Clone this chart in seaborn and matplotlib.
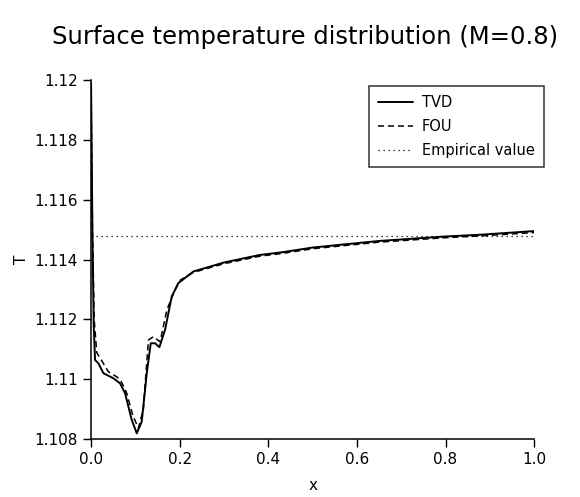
import numpy as np
import pandas as pd
import seaborn as sns
import matplotlib.pyplot as plt

# TVD solution
x_tvd = [0.0, 0.003, 0.006, 0.009, 0.0166, 0.0278, 0.0504, 0.0655, 0.0767, 0.0918,
         0.1031, 0.1144, 0.1257, 0.1347, 0.1445, 0.1542, 0.167, 0.182, 0.197, 0.231,
         0.3, 0.38, 0.43, 0.5, 0.65, 0.8, 0.88, 1.0]
T_tvd = [1.1199, 1.1150, 1.1118, 1.11064, 1.11053, 1.11020, 1.11003, 1.10986, 1.10953, 1.10864,
         1.10819, 1.10858, 1.11020, 1.11120, 1.11120, 1.11107, 1.11165, 1.11276, 1.11321, 1.11360,
         1.11390, 1.11415, 1.11424, 1.11440, 1.11462, 1.11477, 1.11483, 1.11495]

# FOU solution
x_fou = [0.0, 0.003, 0.007, 0.0128, 0.039, 0.058, 0.069, 0.0805, 0.094, 0.1068,
         0.118, 0.1294, 0.1407, 0.1558, 0.171, 0.186, 0.2, 0.231,
         0.3, 0.38, 0.43, 0.5, 0.65, 0.8, 0.88, 1.0]
T_fou = [1.1199, 1.1152, 1.1120, 1.11089, 1.11025, 1.11008, 1.10990, 1.10953, 1.10880, 1.10836,
         1.10900, 1.11131, 1.11142, 1.11125, 1.11231, 1.11287, 1.11330, 1.11357,
         1.11386, 1.11411, 1.11420, 1.11436, 1.11458, 1.11473, 1.11479, 1.11490]

T_empirical = 1.1148

sns.set_style("ticks")
plt.rcParams['font.family'] = ['DejaVu Sans']
plt.rcParams['text.color'] = 'black'
plt.rcParams['axes.labelcolor'] = 'black'

fig = plt.figure(figsize=(5.8, 4.97), dpi=100)
ax = fig.add_axes([0.157, 0.1167, 0.764, 0.7223])

df_tvd = pd.DataFrame({"x": x_tvd, "T": T_tvd})
df_fou = pd.DataFrame({"x": x_fou, "T": T_fou})
sns.lineplot(data=df_tvd, x="x", y="T", ax=ax, color="black", lw=1.4, label="TVD")
sns.lineplot(data=df_fou, x="x", y="T", ax=ax, color="black", lw=1.1, ls=(0, (4, 2.5)), label="FOU")
ax.plot([0.0, 1.0], [T_empirical, T_empirical], color="black", lw=0.9, ls=(0, (1, 3)), label="Empirical value")

ax.set_xlim(0, 1.0)
ax.set_ylim(1.108, 1.12)
ax.set_xticks(np.arange(0, 1.01, 0.2))
ax.set_xticklabels(["0.0", "0.2", "0.4", "0.6", "0.8", "1.0"])
yt = [1.108, 1.11, 1.112, 1.114, 1.116, 1.118, 1.12]
ax.set_yticks(yt)
ax.set_yticklabels(["%g" % v for v in yt])
ax.tick_params(labelsize=11, length=6, width=1, color="black", labelcolor="black")
ax.set_xlabel("x", fontsize=11, labelpad=8)
ax.set_ylabel("T", fontsize=11, labelpad=4)
sns.despine(ax=ax)
for s in ["left", "bottom"]:
    ax.spines[s].set_color("black")
    ax.spines[s].set_linewidth(1.1)

leg = ax.legend(loc="upper left", bbox_to_anchor=(0.636, 0.827), bbox_transform=fig.transFigure,
                fontsize=10.5, frameon=True, fancybox=False, handlelength=2.4, borderpad=0.65,
                labelspacing=0.6, handletextpad=0.6, borderaxespad=0)
leg.get_frame().set_edgecolor("black")
leg.get_frame().set_linewidth(1.1)

fig.text(0.526, 0.925, "Surface temperature distribution (M=0.8)", ha="center", va="center",
         fontsize=17.5, color="black")

fig.savefig("out.png", dpi=100)
